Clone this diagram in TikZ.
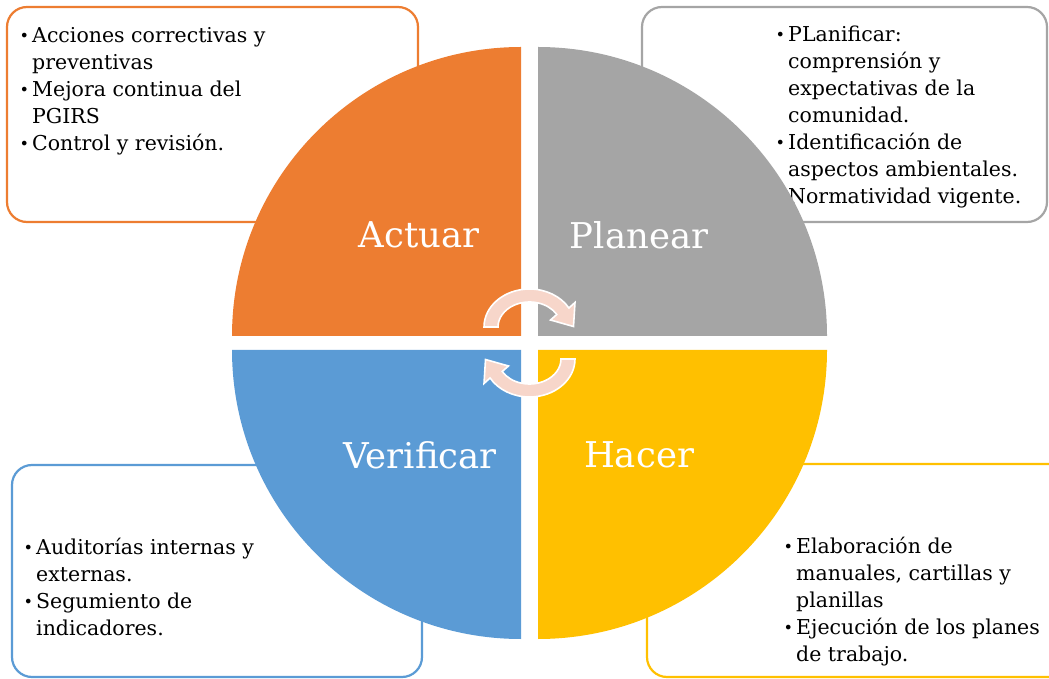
\documentclass[tikz,border=0pt]{standalone}
\usepackage{fontspec}
\setmainfont{DejaVu Serif}
\definecolor{cOrange}{RGB}{237,125,49}
\definecolor{cGray}{RGB}{165,165,165}
\definecolor{cBlue}{RGB}{91,155,213}
\definecolor{cYellow}{RGB}{255,192,0}
\definecolor{cPink}{RGB}{247,214,202}
\newcommand\bitem[1]{\makebox[11pt][l]{\hspace*{-1.5pt}\raisebox{0.8pt}{\scalebox{0.78}{\textbullet}}}#1}
\newcommand\bcont[1]{\hspace*{11pt}#1}
\tikzset{
  infobox/.style={line width=2.2pt, fill=white, rounded corners=20pt},
  infotext/.style={anchor=north west, inner sep=0pt, align=left, font=\fontsize{20.5}{27}\selectfont, text=black},
  quadlabel/.style={text=white, font=\fontsize{35.5}{42}\selectfont, inner sep=0pt},
  cyclearrow/.style={fill=cPink, draw=white, line width=1.6pt, line join=miter},
}
\begin{document}
\begin{tikzpicture}[x=1pt,y=1pt]
\useasboundingbox (0,0) rectangle (1049,678);
\clip (0,0) rectangle (1049,678);
% info boxes
\draw[infobox, draw=cOrange] (7,456) rectangle (418,671);
\draw[infobox, draw=cGray] (642,456) rectangle (1047,671);
\draw[infobox, draw=cBlue] (12,1) rectangle (422,213);
\draw[infobox, draw=cYellow] (647,1) rectangle (1070,214);
\node[infotext] (tA) at (21,650.5) {\bitem{Acciones correctivas y}\\ \bcont{preventivas}\\ \bitem{Mejora continua del}\\ \bcont{PGIRS}\\ \bitem{Control y revisión.}};
\node[infotext] (tP) at (777,652) {\bitem{PLanificar:}\\ \bcont{comprensión y}\\ \bcont{expectativas de la}\\ \bcont{comunidad.}\\ \bitem{Identificación de}\\ \bcont{aspectos ambientales.}\\ \bcont{Normatividad vigente.}};
\node[infotext] (tV) at (25,140) {\bitem{Auditorías internas y}\\ \bcont{externas.}\\ \bitem{Segumiento de}\\ \bcont{indicadores.}};
\node[infotext] (tH) at (785,141) {\bitem{Elaboración de}\\ \bcont{manuales, cartillas y}\\ \bcont{planillas}\\ \bitem{Ejecución de los planes}\\ \bcont{de trabajo.}};
% quadrants
\fill[cOrange] (521,342) -- ++(-289,0) arc[start angle=180,end angle=90,radius=289] -- cycle;
\fill[cGray] (538,342) -- ++(0,289) arc[start angle=90,end angle=0,radius=289] -- cycle;
\fill[cBlue] (521,328) -- ++(0,-289) arc[start angle=270,end angle=180,radius=289] -- cycle;
\fill[cYellow] (538,328) -- ++(289,0) arc[start angle=0,end angle=-90,radius=289] -- cycle;
\node[quadlabel] (lA) at (419,443) {Actuar};
\node[quadlabel] (lP) at (639,443) {Planear};
\node[quadlabel] (lV) at (420,223) {Verificar};
\node[quadlabel] (lH) at (639,223) {Hacer};
% cycle arrows
\begin{scope}[shift={(529.5,351)}]
\draw[cyclearrow] (-45.5,0) arc[start angle=180,end angle=30,x radius=45.5,y radius=38] -- (45.5,24.5) -- (44,0.5) -- (21,7) -- (27.3,12.5) arc[start angle=30,end angle=180,x radius=31.5,y radius=25] -- cycle;
\end{scope}
\begin{scope}[shift={(529.5,319)}, rotate=180]
\draw[cyclearrow] (-45.5,0) arc[start angle=180,end angle=30,x radius=45.5,y radius=38] -- (45.5,24.5) -- (44,0.5) -- (21,7) -- (27.3,12.5) arc[start angle=30,end angle=180,x radius=31.5,y radius=25] -- cycle;
\end{scope}
\end{tikzpicture}
\end{document}
